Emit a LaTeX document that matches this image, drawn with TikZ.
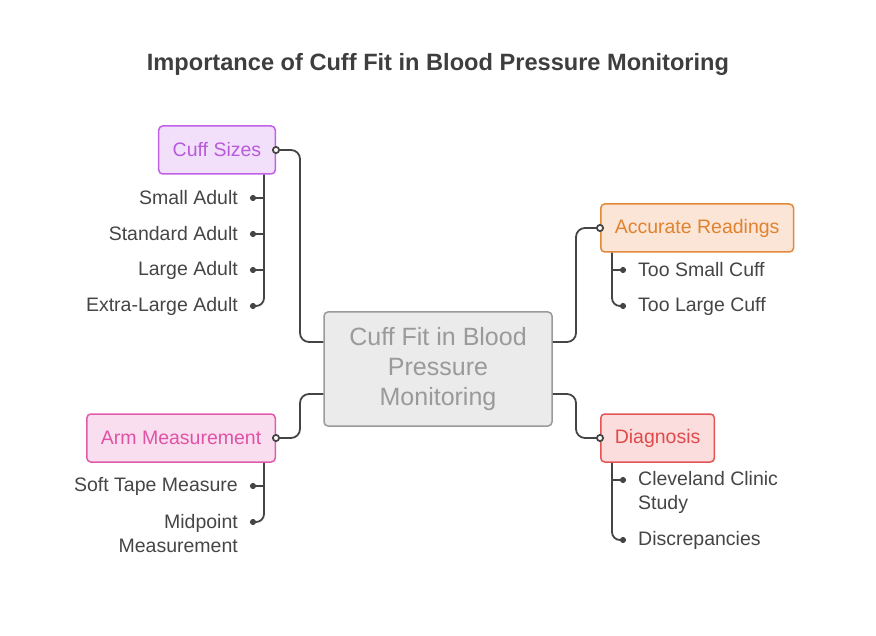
\documentclass[tikz,border=0pt]{standalone}
\usepackage{fontspec}
\setmainfont{Liberation Sans}
\usetikzlibrary{positioning, arrows.meta, calc}
\definecolor{ink}{HTML}{454545}
\definecolor{sizefill}{HTML}{F2E0FA}
\definecolor{sizeline}{HTML}{C061E6}
\definecolor{sizetext}{HTML}{B85ADB}
\definecolor{accfill}{HTML}{FAE5D6}
\definecolor{accline}{HTML}{E3893A}
\definecolor{acctext}{HTML}{E0822F}
\definecolor{armfill}{HTML}{F9DEEF}
\definecolor{armline}{HTML}{E05BAA}
\definecolor{armtext}{HTML}{E052A5}
\definecolor{diagfill}{HTML}{FADDDC}
\definecolor{diagline}{HTML}{E25555}
\definecolor{diagtext}{HTML}{E04A4A}
\definecolor{corefill}{HTML}{EBEBEB}
\definecolor{coreline}{HTML}{9A9A9A}
\tikzset{
    heading/.style={font=\fontsize{23.6}{28}\selectfont\bfseries, text=ink!90!black},
    core/.style={draw=coreline, fill=corefill, rounded corners=4pt, line width=1.5pt, minimum width=228pt, minimum height=114pt, align=center, text=coreline, font=\fontsize{25}{30}\selectfont},
    topic/.style={rounded corners=4pt, line width=1.5pt, minimum height=48pt, inner xsep=14pt, font=\fontsize{19.5}{24}\selectfont},
    leafL/.style={anchor=east, inner xsep=15pt, inner ysep=0pt, align=right, text=ink, font=\fontsize{19.5}{24}\selectfont},
    leafR/.style={anchor=west, inner xsep=15pt, inner ysep=0pt, align=left, text=ink, font=\fontsize{19.5}{24}\selectfont},
    link/.style={draw=ink, line width=1.8pt, rounded corners=9pt, -{Circle[length=8pt, fill=white]}, shorten >=-4pt},
    twig/.style={draw=ink, line width=1.8pt, rounded corners=8pt, -{Circle[length=6pt]}, shorten >=-3pt}
}

\begin{document}
\begin{tikzpicture}[x=1pt, y=-1pt]
\useasboundingbox (0,0) rectangle (876,636);

% Title
\node[heading] (title) at (438,64) {Importance of Cuff Fit in Blood Pressure Monitoring};

% Nodes
\node[core] (core) at (438,369) {Cuff Fit in Blood\\Pressure\\Monitoring};
\node[topic, draw=sizeline, fill=sizefill, text=sizetext, anchor=east] (sizes) at (276,150) {Cuff Sizes};
\node[topic, draw=accline, fill=accfill, text=acctext, anchor=west] (acc) at (600,228) {Accurate Readings};
\node[topic, draw=armline, fill=armfill, text=armtext, anchor=east] (arm) at (276,438) {Arm Measurement};
\node[topic, draw=diagline, fill=diagfill, text=diagtext, anchor=west] (diag) at (600,438) {Diagnosis};

% Leaves
\node[leafL] (small) at (253,198) {Small Adult};
\node[leafL] (standard) at (253,234) {Standard Adult};
\node[leafL] (large) at (253,270) {Large Adult};
\node[leafL] (xlarge) at (253,306) {Extra-Large Adult};
\node[leafR] (toosmall) at (623,270) {Too Small Cuff};
\node[leafR] (toolarge) at (623,306) {Too Large Cuff};
\node[leafL] (tape) at (253,486) {Soft Tape Measure};
\node[leafL] (midpoint) at (253,534) {Midpoint\\Measurement};
\node[leafR] (clinic) at (623,492) {Cleveland Clinic\\Study};
\node[leafR] (discrep) at (623,540) {Discrepancies};

% Links
\draw[link] ([yshift=27pt]core.west) -| ([xshift=24pt]sizes.east) -- (sizes.east);
\draw[link] ([yshift=27pt]core.east) -| ([xshift=-24pt]acc.west) -- (acc.west);
\draw[link] ([yshift=-25pt]core.west) -| ([xshift=24pt]arm.east) -- (arm.east);
\draw[link] ([yshift=-25pt]core.east) -| ([xshift=-24pt]diag.west) -- (diag.west);

% Twigs
\draw[twig] ([xshift=-12pt]sizes.south east) |- (xlarge.east);
\draw[twig] ([xshift=11pt]small.east) -- (small.east);
\draw[twig] ([xshift=11pt]standard.east) -- (standard.east);
\draw[twig] ([xshift=11pt]large.east) -- (large.east);
\draw[twig] ([xshift=12pt]acc.south west) |- (toolarge.west);
\draw[twig] ([xshift=-11pt]toosmall.west) -- (toosmall.west);
\draw[twig] ([xshift=-12pt]arm.south east) |- ([yshift=12pt]midpoint.east);
\draw[twig] ([xshift=11pt]tape.east) -- (tape.east);
\draw[twig] ([xshift=12pt]diag.south west) |- (discrep.west);
\draw[twig] ([shift={(-11pt,12pt)}]clinic.west) -- ([yshift=12pt]clinic.west);

\end{tikzpicture}
\end{document}
